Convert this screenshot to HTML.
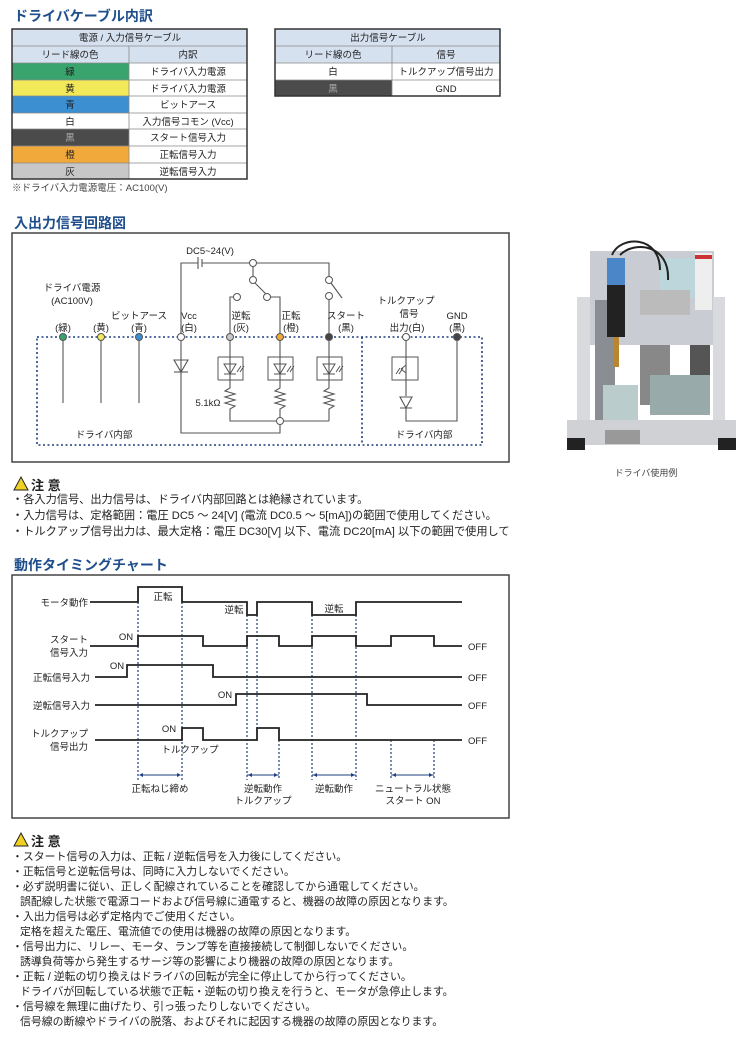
<!DOCTYPE html>
<html><head><meta charset="utf-8"><style>
html,body{margin:0;padding:0;background:#fff;width:750px;height:1038px;overflow:hidden}
svg{display:block}
text{font-family:"Liberation Sans","Noto Sans CJK JP",sans-serif;fill:#222}
.t{fill:#1f4e8c;font-weight:bold;font-size:14px}
.c{text-anchor:middle}
.r{text-anchor:end}
</style></head><body>
<svg width="750" height="1038" viewBox="0 0 750 1038" xmlns="http://www.w3.org/2000/svg">
<text x="14" y="21" class="t">ドライバケーブル内訳</text>
<g font-size="9.5">
<rect x="12" y="29" width="235" height="34" fill="#d6e1f0"/>
<rect x="12" y="63" width="117" height="17" fill="#3aa46e"/>
<rect x="12" y="80" width="117" height="16" fill="#f2e85a"/>
<rect x="12" y="96" width="117" height="17" fill="#3c8fd0"/>
<rect x="12" y="129" width="117" height="17" fill="#4b4b4b"/>
<rect x="12" y="146" width="117" height="17" fill="#f2a93b"/>
<rect x="12" y="163" width="117" height="16" fill="#c7c7c7"/>
<g stroke="#888" stroke-width="0.8" fill="none">
<line x1="12" y1="46" x2="247" y2="46"/><line x1="12" y1="63" x2="247" y2="63"/>
<line x1="12" y1="80" x2="247" y2="80"/><line x1="12" y1="96" x2="247" y2="96"/>
<line x1="12" y1="113" x2="247" y2="113"/><line x1="12" y1="129" x2="247" y2="129"/>
<line x1="12" y1="146" x2="247" y2="146"/><line x1="12" y1="163" x2="247" y2="163"/>
<line x1="129" y1="46" x2="129" y2="179"/>
</g>
<rect x="12" y="29" width="235" height="150" fill="none" stroke="#333" stroke-width="1.5"/>
<text x="130" y="41" class="c">電源 / 入力信号ケーブル</text>
<text x="70" y="58" class="c">リード線の色</text><text x="188" y="58" class="c">内訳</text>
<text x="70" y="75" class="c">緑</text><text x="188" y="75" class="c">ドライバ入力電源</text>
<text x="70" y="92" class="c">黄</text><text x="188" y="92" class="c">ドライバ入力電源</text>
<text x="70" y="108" class="c">青</text><text x="188" y="108" class="c">ビットアース</text>
<text x="70" y="125" class="c">白</text><text x="188" y="125" class="c">入力信号コモン (Vcc)</text>
<text x="70" y="141" class="c" style="fill:#aaa">黒</text><text x="188" y="141" class="c">スタート信号入力</text>
<text x="70" y="158" class="c">橙</text><text x="188" y="158" class="c">正転信号入力</text>
<text x="70" y="175" class="c">灰</text><text x="188" y="175" class="c">逆転信号入力</text>
<text x="12" y="191" font-size="9.5" style="fill:#444">※ドライバ入力電源電圧：AC100(V)</text>

<rect x="275" y="29" width="225" height="34" fill="#d6e1f0"/>
<rect x="275" y="80" width="117" height="16" fill="#4b4b4b"/>
<g stroke="#888" stroke-width="0.8"><line x1="275" y1="46" x2="500" y2="46"/><line x1="275" y1="63" x2="500" y2="63"/><line x1="275" y1="80" x2="500" y2="80"/><line x1="392" y1="46" x2="392" y2="96"/></g>
<rect x="275" y="29" width="225" height="67" fill="none" stroke="#333" stroke-width="1.5"/>
<text x="388" y="41" class="c">出力信号ケーブル</text>
<text x="333" y="58" class="c">リード線の色</text><text x="446" y="58" class="c">信号</text>
<text x="333" y="75" class="c">白</text><text x="446" y="75" class="c">トルクアップ信号出力</text>
<text x="333" y="92" class="c" style="fill:#aaa">黒</text><text x="446" y="92" class="c">GND</text>
</g>

<text x="14" y="228" class="t">入出力信号回路図</text>
<rect x="12" y="233" width="497" height="229" fill="none" stroke="#444" stroke-width="1.5"/>
<g fill="none" stroke="#1f3f80" stroke-width="1.6" stroke-dasharray="2,2.5">
<path d="M37 337H482V445H37Z"/><line x1="362" y1="337" x2="362" y2="445"/>
</g>
<g fill="none" stroke="#555" stroke-width="1.1">
<line x1="63" y1="337" x2="63" y2="403"/><line x1="101" y1="337" x2="101" y2="403"/><line x1="139" y1="337" x2="139" y2="403"/>
<path d="M181 337V263H198M202 263H253M257 263H329V277"/>
<line x1="198" y1="257" x2="198" y2="269"/><line x1="202" y1="259" x2="202" y2="267"/>
<line x1="253" y1="266" x2="253" y2="277"/>
<line x1="255" y1="283" x2="266" y2="294"/>
<path d="M270 297H280V337"/>
<path d="M234 297H230V337"/>
<line x1="331" y1="283" x2="342" y2="298"/>
<line x1="329" y1="299" x2="329" y2="337"/>
<path d="M181 337V433H280V424"/>
<path d="M174 360H188L181 372Z"/><line x1="174" y1="372" x2="188" y2="372"/>
<path d="M230 337V388l-5 3 10 3-10 3 10 3-10 3 10 3-5 3V421H329"/>
<path d="M280 337V388l-5 3 10 3-10 3 10 3-10 3 10 3-5 3V418"/>
<path d="M329 337V388l-5 3 10 3-10 3 10 3-10 3 10 3-5 3V421"/>
<path d="M406 337V380L406 396M400 397H412L406 408ZM400 408H412M406 408V421H457V337"/>
</g>
<g fill="none" stroke="#555" stroke-width="1">
<path d="M218 357V380M218 357H243V380H218M268 357V380H293V357ZM317 357V380H342V357Z" />
<path d="M224 364H236L230 374ZM224 374H236M274 364H286L280 374ZM274 374H286M323 364H335L329 374ZM323 374H335"/>
<path d="M237 372l4-6M240 372l4-6M287 372l4-6M290 372l4-6M336 372l4-6M339 372l4-6"/>
<path d="M392 357H418V380H392ZM406 362L406 376M406 365l-5 4M406 373l-5-4M396 374l4-6M399 374l4-6"/>
</g>
<g stroke="#555" stroke-width="1">
<circle cx="63" cy="337" r="3.5" fill="#3aa46e"/><circle cx="101" cy="337" r="3.5" fill="#f2e85a"/><circle cx="139" cy="337" r="3.5" fill="#3c8fd0"/>
<circle cx="181" cy="337" r="3.5" fill="#fff"/><circle cx="230" cy="337" r="3.5" fill="#c7c7c7"/><circle cx="280" cy="337" r="3.5" fill="#f2a93b"/>
<circle cx="329" cy="337" r="3.5" fill="#444"/><circle cx="406" cy="337" r="3.5" fill="#fff"/><circle cx="457" cy="337" r="3.5" fill="#444"/>
<circle cx="253" cy="263" r="3.5" fill="#fff"/><circle cx="253" cy="280" r="3.5" fill="#fff"/><circle cx="267" cy="297" r="3.5" fill="#fff"/>
<circle cx="237" cy="297" r="3.5" fill="#fff"/><circle cx="329" cy="280" r="3.5" fill="#fff"/><circle cx="329" cy="296" r="3.5" fill="#fff"/>
<circle cx="280" cy="421" r="3.5" fill="#fff"/>
</g>
<g font-size="9.5" style="fill:#333">
<text x="210" y="254" class="c">DC5~24(V)</text>
<text x="72" y="291" class="c">ドライバ電源</text><text x="72" y="304" class="c">(AC100V)</text>
<text x="63" y="331" class="c">(緑)</text><text x="101" y="331" class="c">(黄)</text><text x="139" y="319" class="c">ビットアース</text><text x="139" y="331" class="c">(青)</text>
<text x="189" y="319" class="c">Vcc</text><text x="189" y="331" class="c">(白)</text>
<text x="241" y="319" class="c">逆転</text><text x="241" y="331" class="c">(灰)</text>
<text x="291" y="319" class="c">正転</text><text x="291" y="331" class="c">(橙)</text>
<text x="346" y="319" class="c">スタート</text><text x="346" y="331" class="c">(黒)</text>
<text x="406" y="304" class="c">トルクアップ</text><text x="409" y="317" class="c">信号</text><text x="407" y="331" class="c">出力(白)</text>
<text x="457" y="319" class="c">GND</text><text x="457" y="331" class="c">(黒)</text>
<text x="208" y="406" class="c">5.1kΩ</text>
<text x="104" y="438" class="c">ドライバ内部</text><text x="424" y="438" class="c">ドライバ内部</text>
</g>

<g>
<rect x="590" y="251" width="124" height="94" fill="#c9ccd2"/>
<rect x="660" y="258" width="40" height="40" fill="#b9d8de" opacity="0.8"/>
<rect x="577" y="297" width="13" height="143" fill="#d8dade"/>
<rect x="713" y="297" width="12" height="143" fill="#d8dade"/>
<rect x="595" y="300" width="20" height="120" fill="#8a8d92"/>
<rect x="690" y="345" width="20" height="70" fill="#555"/>
<rect x="607" y="258" width="18" height="30" fill="#4a86c8"/>
<rect x="607" y="285" width="18" height="52" fill="#222"/>
<rect x="640" y="290" width="50" height="25" fill="#bbb"/>
<rect x="695" y="253" width="17" height="57" fill="#eee"/>
<rect x="695" y="255" width="17" height="4" fill="#c33"/>
<rect x="613" y="337" width="6" height="30" fill="#b8862e"/>
<rect x="640" y="345" width="30" height="60" fill="#888"/>
<rect x="650" y="375" width="60" height="40" fill="#9aa"/>
<rect x="603" y="385" width="35" height="40" fill="#bcc"/>
<path d="M567 420H736V445H567Z" fill="#cfd1d4"/>
<rect x="567" y="438" width="18" height="12" fill="#222"/><rect x="718" y="438" width="18" height="12" fill="#222"/>
<rect x="605" y="430" width="35" height="14" fill="#999"/>
<path d="M612 255C620 235 660 235 660 270M620 255C635 240 670 245 668 280" stroke="#222" stroke-width="2" fill="none"/>
</g>
<text x="646" y="476" class="c" font-size="9" style="fill:#444">ドライバ使用例</text>

<path d="M14 490L21 477L28 490Z" fill="#f0d020" stroke="#222" stroke-width="1"/>
<text x="31" y="490" font-size="13" font-weight="bold">注 意</text>
<g font-size="11.2" style="fill:#333">
<text x="12" y="503">・各入力信号、出力信号は、ドライバ内部回路とは絶縁されています。</text>
<text x="12" y="519">・入力信号は、定格範囲：電圧 DC5 ～ 24[V] (電流 DC0.5 ～ 5[mA])の範囲で使用してください。</text>
<text x="12" y="535">・トルクアップ信号出力は、最大定格：電圧 DC30[V] 以下、電流 DC20[mA] 以下の範囲で使用して</text>
</g>
<rect x="0" y="541" width="520" height="10" fill="#fff"/>

<text x="14" y="570" class="t">動作タイミングチャート</text>
<rect x="12" y="575" width="497" height="243" fill="none" stroke="#444" stroke-width="1.5"/>
<g fill="none" stroke="#1f3f80" stroke-width="1.2" stroke-dasharray="2,2">
<line x1="138" y1="590" x2="138" y2="780"/><line x1="182" y1="590" x2="182" y2="780"/>
<line x1="247" y1="615" x2="247" y2="780"/><line x1="257" y1="615" x2="257" y2="728"/>
<line x1="279" y1="740" x2="279" y2="780"/><line x1="312" y1="615" x2="312" y2="780"/>
<line x1="356" y1="615" x2="356" y2="780"/><line x1="391" y1="740" x2="391" y2="780"/><line x1="434" y1="740" x2="434" y2="780"/>
</g>
<g fill="none" stroke="#1f3f80" stroke-width="1">
<path d="M141 775H179M247 775H279M312 775H356M391 775H434"/>
</g>
<g fill="#1f3f80"><path d="M139 775l4-2v4zM181 775l-4-2v4zM248 775l4-2v4zM278 775l-4-2v4zM313 775l4-2v4zM355 775l-4-2v4zM392 775l4-2v4zM433 775l-4-2v4z"/></g>
<g fill="none" stroke="#222" stroke-width="1.8">
<path d="M90 602H138V587H182V602H247V615H257V602H312V615H356V602H462"/>
<path d="M90 646H138V636H203V646H247V636H279V646H312V636H356V646H391V636H434V646H462"/>
<path d="M95 677H127V665H213V677H462"/>
<path d="M95 705H236V694H367V705H462"/>
<path d="M95 740H182V728H203V740H257V728H279V740H462"/>
</g>
<g font-size="9.5" style="fill:#333">
<text x="88" y="606" class="r">モータ動作</text>
<text x="88" y="643" class="r">スタート</text><text x="88" y="656" class="r">信号入力</text>
<text x="90" y="681" class="r">正転信号入力</text><text x="90" y="709" class="r">逆転信号入力</text>
<text x="88" y="737" class="r">トルクアップ</text><text x="88" y="750" class="r">信号出力</text>
<text x="163" y="600" class="c">正転</text><text x="234" y="613" class="c">逆転</text><text x="334" y="612" class="c">逆転</text>
<text x="126" y="640" class="c">ON</text><text x="117" y="669" class="c">ON</text><text x="225" y="698" class="c">ON</text><text x="169" y="732" class="c">ON</text>
<text x="190" y="753" class="c">トルクアップ</text>
<text x="468" y="650">OFF</text><text x="468" y="681">OFF</text><text x="468" y="709">OFF</text><text x="468" y="744">OFF</text>
<text x="160" y="792" class="c">正転ねじ締め</text>
<text x="263" y="792" class="c">逆転動作</text><text x="263" y="804" class="c">トルクアップ</text>
<text x="334" y="792" class="c">逆転動作</text>
<text x="413" y="792" class="c">ニュートラル状態</text><text x="413" y="804" class="c">スタート ON</text>
</g>

<path d="M14 846L21 833L28 846Z" fill="#f0d020" stroke="#222" stroke-width="1"/>
<text x="31" y="846" font-size="13" font-weight="bold">注 意</text>
<g font-size="10.9" style="fill:#333">
<text x="12" y="860">・スタート信号の入力は、正転 / 逆転信号を入力後にしてください。</text>
<text x="12" y="875">・正転信号と逆転信号は、同時に入力しないでください。</text>
<text x="12" y="890">・必ず説明書に従い、正しく配線されていることを確認してから通電してください。</text>
<text x="20" y="905">誤配線した状態で電源コードおよび信号線に通電すると、機器の故障の原因となります。</text>
<text x="12" y="920">・入出力信号は必ず定格内でご使用ください。</text>
<text x="20" y="935">定格を超えた電圧、電流値での使用は機器の故障の原因となります。</text>
<text x="12" y="950">・信号出力に、リレー、モータ、ランプ等を直接接続して制御しないでください。</text>
<text x="20" y="965">誘導負荷等から発生するサージ等の影響により機器の故障の原因となります。</text>
<text x="12" y="980">・正転 / 逆転の切り換えはドライバの回転が完全に停止してから行ってください。</text>
<text x="20" y="995">ドライバが回転している状態で正転・逆転の切り換えを行うと、モータが急停止します。</text>
<text x="12" y="1010">・信号線を無理に曲げたり、引っ張ったりしないでください。</text>
<text x="20" y="1025">信号線の断線やドライバの脱落、およびそれに起因する機器の故障の原因となります。</text>
</g>
</svg>
</body></html>
